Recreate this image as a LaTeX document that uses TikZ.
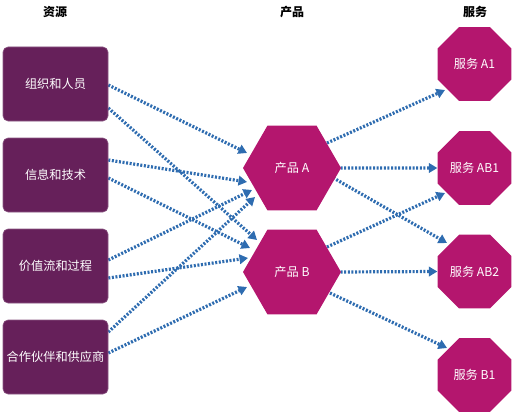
\documentclass[tikz,border=0pt]{standalone}
\usepackage{fontspec}
\setmainfont{Noto Sans CJK SC}
\usetikzlibrary{shapes.geometric,arrows.meta,calc,backgrounds}
\definecolor{boxpurple}{HTML}{66205A}
\definecolor{hexmag}{HTML}{B4166E}
\definecolor{arrblue}{HTML}{2E6CB0}
\begin{document}
\begin{tikzpicture}[x=1pt,y=-1pt,
  resbox/.style={rectangle,rounded corners=5pt,minimum width=105pt,minimum height=74pt,
    fill=boxpurple,draw=boxpurple!75!white,line width=0.6pt,text=white,
    font=\fontsize{12.2}{14}\selectfont,inner sep=2pt},
  prodhex/.style={regular polygon,regular polygon sides=6,minimum size=98pt,
    fill=hexmag,text=white,inner sep=0pt,font=\fontsize{12.2}{14}\selectfont},
  servoct/.style={regular polygon,regular polygon sides=8,minimum size=80pt,
    fill=hexmag,text=white,inner sep=0pt,font=\fontsize{12.2}{14}\selectfont},
  header/.style={font=\bfseries\fontsize{12}{14}\selectfont,text=black},
  flow/.style={draw=arrblue,line width=3.2pt,dash pattern=on 2pt off 1.6pt,
    -{Triangle[length=8.5pt,width=9.5pt]}}]
\useasboundingbox (0,0) rectangle (513,412);

\node[header] (h1) at (55,12) {资源};
\node[header] (h2) at (292,12) {产品};
\node[header] (h3) at (475,12) {服务};

\node[resbox] (r1) at (55.5,84) {组织和人员};
\node[resbox] (r2) at (55.5,175) {信息和技术};
\node[resbox] (r3) at (55.5,266) {价值流和过程};
\node[resbox] (r4) at (55.5,357) {合作伙伴和供应商};

\node[prodhex] (A) at (292,168) {产品 A};
\node[prodhex] (B) at (292,272) {产品 B};

\node[servoct] (A1) at (474.5,64) {服务 A1};
\node[servoct] (AB1) at (474.5,168) {服务 AB1};
\node[servoct] (AB2) at (474.5,271.5) {服务 AB2};
\node[servoct] (B1) at (474.5,375) {服务 B1};

\begin{scope}[on background layer]
\draw[flow] ([yshift=-1pt]r1.east) -- ($(A)+(-45,-15)$);
\draw[flow] ([yshift=-24pt]r1.east) -- ($(B)+(-35,-32)$);
\draw[flow] ([yshift=15pt]r2.east) -- ($(A)+(-45,14)$);
\draw[flow] ([yshift=-3pt]r2.east) -- ($(B)+(-42,-24)$);
\draw[flow] ([yshift=6pt]r3.east) -- ($(A)+(-40,22)$);
\draw[flow] ([yshift=-12pt]r3.east) -- ($(B)+(-44,-14)$);
\draw[flow] ([yshift=25pt]r4.east) -- ($(A)+(-37,29)$);
\draw[flow] ([yshift=4pt]r4.east) -- ($(B)+(-45,15)$);

\draw[flow] ($(A)+(35,-25)$) -- ($(A1)+(-29.5,26)$);
\draw[flow] ($(A)+(45,0)$) -- (AB1.west);
\draw[flow] ($(A)+(38,8)$) -- ($(AB2)+(-27.5,-28.5)$);
\draw[flow] ($(B)+(35,-25)$) -- ($(AB1)+(-29.5,25)$);
\draw[flow] ($(B)+(45,0)$) -- (AB2.west);
\draw[flow] ($(B)+(38,21)$) -- ($(B1)+(-27.5,-27)$);
\end{scope}
\end{tikzpicture}
\end{document}
